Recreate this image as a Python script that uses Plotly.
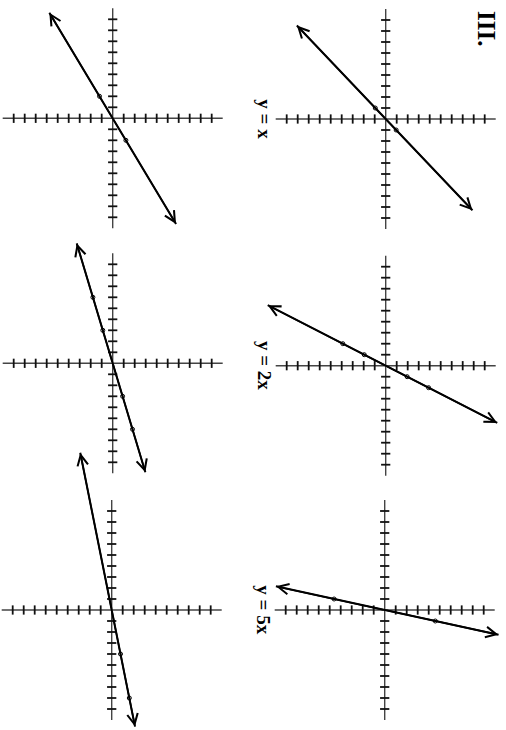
import plotly.graph_objects as go

# ---- data ----
panel_slopes = [0.6, 0.3, 0.2, 0.95, 1.95, 4.6]           # y = k x as drawn
line_x_start = [-9.6, -10.9, -14.3, -8.5, -5.5, -2.15]
line_x_end = [9.6, 9.9, 10.6, 8.3, 5.2, 2.25]
dot_x = [[-2, 2], [-6, -3, 3, 6], [4, 8], [-1, 1], [-2, -1, 1, 2], [-1, 1]]
panel_labels = ["", "", "", "y = x", "y = 2x", "y = 5x"]
axis_ticks = [-9, -8, -7, -6, -5, -4, -3, -2, -1, 1, 2, 3, 4, 5, 6, 7, 8, 9]
axis_limit = 10
page_label = "III."

# ---- layout (page is a scan turned a quarter turn clockwise) ----
W, H = 506, 730
unit_px = 11.0
panel_origin_px = [(112.7, 118.3), (112.7, 363.3), (111.7, 610.0),
                   (385.7, 119.0), (385.7, 365.7), (384.7, 610.0)]
tick_half = 0.42
label_offset = -11.0

fig = go.Figure()
layout_axes = {}
annotations = []

for i, k in enumerate(panel_slopes):
    n = i + 1
    sx = "" if n == 1 else str(n)
    xa, ya = "x" + sx, "y" + sx
    cx, cy = panel_origin_px[i]
    layout_axes["xaxis" + sx] = dict(domain=[0, 1], range=[-cx / unit_px, (W - cx) / unit_px],
                                     visible=False, anchor=ya, fixedrange=True)
    layout_axes["yaxis" + sx] = dict(domain=[0, 1], range=[(H - cy) / unit_px, -cy / unit_px],
                                     visible=False, anchor=xa, fixedrange=True)

    # axis lines (plot x = original y, plot y = original x; turned page)
    fig.add_trace(go.Scatter(x=[-axis_limit, axis_limit, None, 0, 0],
                             y=[0, 0, None, -axis_limit, axis_limit],
                             mode="lines", line=dict(color="#444", width=1.4),
                             xaxis=xa, yaxis=ya, hoverinfo="skip", showlegend=False))
    # tick marks
    tx, ty = [], []
    for t in axis_ticks:
        tx += [t, t, None]
        ty += [-tick_half, tick_half, None]
        tx += [-tick_half, tick_half, None]
        ty += [t, t, None]
    fig.add_trace(go.Scatter(x=tx, y=ty, mode="lines", line=dict(color="#111", width=1.8),
                             xaxis=xa, yaxis=ya, hoverinfo="skip", showlegend=False))
    # the line y = kx
    xs = [line_x_start[i], line_x_end[i]]
    fig.add_trace(go.Scatter(x=[k * v for v in xs], y=xs, mode="lines",
                             line=dict(color="#000", width=2),
                             xaxis=xa, yaxis=ya, hoverinfo="skip", showlegend=False))
    # plotted points
    fig.add_trace(go.Scatter(x=[k * v for v in dot_x[i]], y=dot_x[i], mode="markers",
                             marker=dict(symbol="circle-open", size=4, color="#000",
                                         line=dict(width=1)),
                             xaxis=xa, yaxis=ya, hoverinfo="skip", showlegend=False))
    # arrow heads at both ends
    for v in xs:
        annotations.append(dict(x=k * v, y=v, xref=xa, yref=ya, ax=0, ay=0,
                                axref=xa, ayref=ya, text="", showarrow=True,
                                arrowhead=5, arrowsize=1.3, arrowwidth=1.6,
                                arrowcolor="#000"))
    if panel_labels[i]:
        annotations.append(dict(x=label_offset, y=0, xref=xa, yref=ya,
                                text="<b>" + panel_labels[i] + "</b>", showarrow=False,
                                textangle=90, xanchor="center", yanchor="middle",
                                font=dict(family="Liberation Serif", size=19,
                                          color="#000")))

annotations.append(dict(x=486 / W, y=1 - 28 / H, xref="paper", yref="paper",
                        text="<b>" + page_label + "</b>", showarrow=False, textangle=90,
                        xanchor="center", yanchor="middle",
                        font=dict(family="Liberation Serif", size=25, color="#000")))

fig.update_layout(width=W, height=H, margin=dict(l=0, r=0, t=0, b=0),
                  paper_bgcolor="white", plot_bgcolor="rgba(0,0,0,0)",
                  showlegend=False, annotations=annotations, **layout_axes)

fig.write_html("out.html", config={"displayModeBar": False},
               post_script="document.body.style.margin='0';document.body.style.padding='0';")
